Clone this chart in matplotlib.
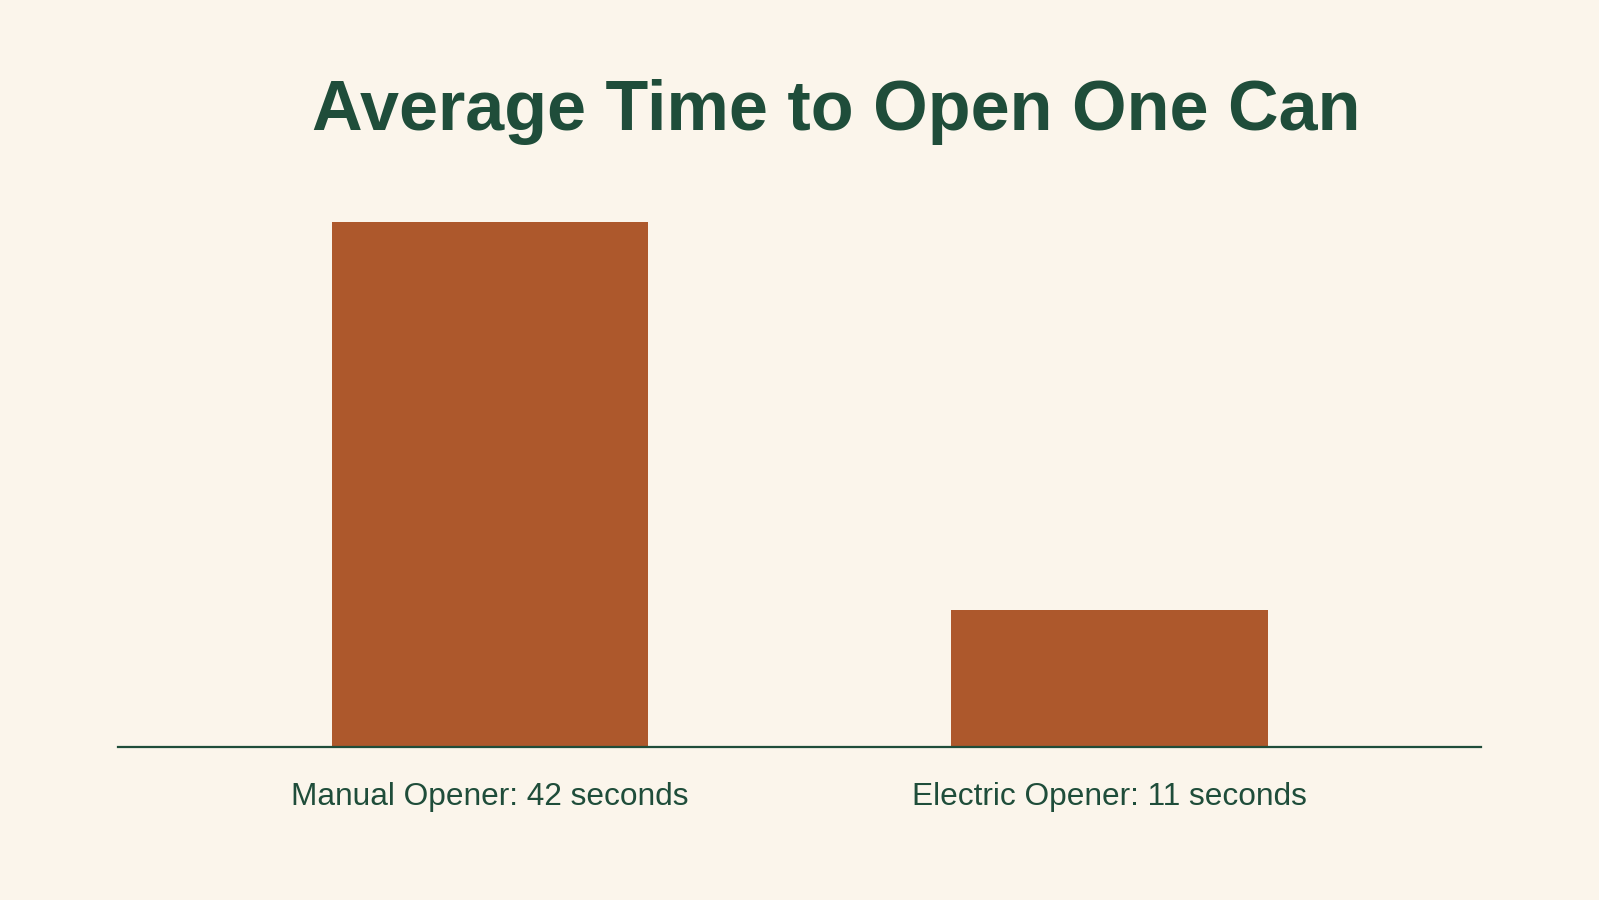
import matplotlib.pyplot as plt

# dados do gráfico
categorias = ["Manual Opener: 42 seconds", "Electric Opener: 11 seconds"]
tempos = [42, 11]

fundo = "#FBF5EB"
verde = "#1F4D3A"
laranja = "#AD582C"

plt.rcParams['font.family'] = ['Liberation Sans', 'DejaVu Sans']

fig = plt.figure(figsize=(15.99, 9), dpi=100, facecolor=fundo)
ax = fig.add_axes([0.0738, 0.17, 0.8526, 0.625])
ax.set_facecolor(fundo)

x = list(range(len(categorias)))
ax.bar(x, tempos, width=0.51, color=laranja, zorder=2)

ax.set_xlim(-0.6, 1.6)
ax.set_ylim(0, 45)

ax.set_xticks(x)
ax.set_xticklabels(categorias, fontsize=22.8, color=verde)
ax.tick_params(axis='x', length=0, pad=25)
ax.set_yticks([])

for lado in ["top", "right", "left"]:
    ax.spines[lado].set_visible(False)
ax.spines["bottom"].set_color(verde)
ax.spines["bottom"].set_linewidth(1.6)
ax.spines["bottom"].set_zorder(3)

# título
fig.text(0.523, 1 - 112 / 900, "Average Time to Open One Can",
         ha="center", va="center", fontsize=50.5, fontweight="bold", color=verde)

fig.savefig("out.png", dpi=100, facecolor=fundo)
